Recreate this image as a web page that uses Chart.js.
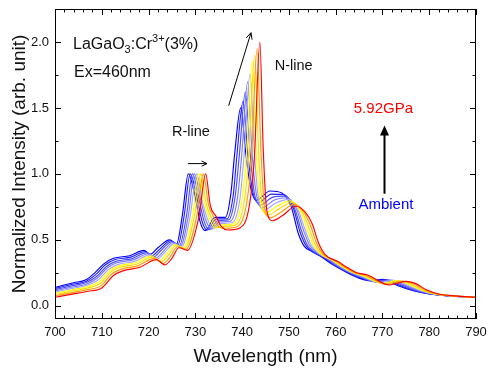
<!DOCTYPE html>
<html><head><meta charset="utf-8">
<script src="https://cdn.jsdelivr.net/npm/chart.js@4/dist/chart.umd.min.js"></script>
<style>html,body{margin:0;padding:0;background:#fff}</style>
</head><body>
<canvas id="c" width="488" height="368"></canvas>
<script>
// ---- tick labels ----
const xTickValues = [700, 710, 720, 730, 740, 750, 760, 770, 780, 790];
const yTickValues = [0, 0.5, 1.0, 1.5, 2.0];
const yTickLabels = ['0.0', '0.5', '1.0', '1.5', '2.0'];

// ---- series (ambient -> 5.92 GPa) ----
const seriesNames = ['Ambient', 'step 1', 'step 2', 'step 3', 'step 4', 'step 5', 'step 6', 'step 7', '5.92GPa'];
const seriesColors = ['#0000ff', '#2222ff', '#4d4dff', '#7a7aff', '#a5a5ff', '#ffff00', '#ffd800', '#ff9a00', '#ff0000'];

const wlAmbient = [700,704,706.5,708.5,710.5,712.5,716,719,720.3,722,724.5,726,727.2,728.5,730,731,732.1,734.2,736.4,737.6,738.4,739.7,740.8,741.8,743,746,748.5,750.5,752,753.3,755,757,759,762,765,767.5,770,773.5,777,780,784,790];
const intAmbient = [.14,.175,.195,.25,.32,.36,.38,.42,.39,.44,.50,.47,.68,1.0,.82,.64,.57,.67,.67,.85,1.15,1.50,1.15,.9,.80,.87,.855,.75,.55,.45,.41,.37,.32,.26,.21,.19,.20,.15,.11,.09,.075,.065];

const wlStep1 = [700,704,706.6,708.7,710.7,712.7,716.2,719.3,720.7,722.4,724.7,726.3,727.6,728.9,730.4,731.4,732.5,734.5,736.8,738.1,738.9,740.2,741.2,742.2,743.4,746.3,748.9,750.9,752.4,753.7,755.3,757.4,759.4,762.3,765.2,768,770.6,773.9,777.3,780.2,784.2,790];
const intStep1 = [.131,.165,.185,.236,.309,.349,.369,.412,.38,.43,.493,.464,.68,1.0,.813,.645,.574,.659,.66,.838,1.145,1.55,1.156,.878,.781,.847,.843,.745,.558,.454,.408,.366,.316,.259,.213,.186,.198,.152,.111,.09,.075,.065];

const wlStep2 = [700,704,706.6,708.9,711,713,716.5,719.6,721.1,722.7,725,726.6,728.1,729.4,730.8,731.8,732.9,734.9,737.1,738.5,739.4,740.7,741.7,742.6,743.8,746.6,749.2,751.2,752.7,754,755.6,757.8,759.8,762.6,765.4,768.5,771.2,774.3,777.6,780.5,784.4,790];
const intStep2 = [.122,.155,.175,.222,.298,.337,.358,.403,.371,.421,.486,.458,.68,1.0,.806,.65,.577,.647,.651,.826,1.14,1.62,1.162,.857,.763,.824,.831,.74,.567,.457,.405,.362,.313,.258,.216,.182,.196,.155,.112,.09,.075,.065];

const wlStep3 = [700,704,706.7,709,711.2,713.2,716.7,720,721.5,723.1,725.2,726.8,728.5,729.8,731.2,732.2,733.4,735.2,737.5,739,739.9,741.2,742.1,743.1,744.3,746.9,749.6,751.6,753.1,754.4,756,758.3,760.3,762.9,765.6,768.9,771.8,774.8,777.9,780.7,784.5,790];
const intStep3 = [.113,.144,.164,.209,.288,.326,.348,.395,.361,.411,.478,.452,.68,1.0,.798,.654,.581,.636,.641,.814,1.136,1.70,1.168,.835,.744,.802,.819,.736,.575,.461,.403,.357,.309,.256,.219,.178,.195,.157,.114,.09,.075,.065];

const wlStep4 = [700,704,706.7,709.2,711.5,713.5,717,720.3,721.8,723.4,725.5,727.1,728.9,730.3,731.5,732.6,733.8,735.5,737.9,739.5,740.4,741.7,742.6,743.5,744.7,747.2,749.9,751.9,753.4,754.7,756.3,758.7,760.7,763.2,765.8,769.4,772.4,775.2,778.2,781,784.7,790];
const intStep4 = [.104,.134,.154,.195,.277,.314,.337,.386,.352,.402,.471,.446,.68,1.0,.791,.659,.584,.624,.632,.802,1.131,1.76,1.174,.814,.726,.779,.807,.731,.584,.464,.40,.353,.306,.255,.222,.175,.193,.16,.115,.09,.075,.065];

const wlStep5 = [700,704,706.8,709.4,711.7,713.7,717.2,720.6,722.2,723.8,725.7,727.4,729.4,730.7,731.9,733,734.2,735.9,738.2,739.9,740.9,742.2,743,743.9,745.1,747.5,750.3,752.3,753.8,755.1,756.6,759.1,761.1,763.5,766,769.9,773,775.6,778.5,781.2,784.9,790];
const intStep5 = [.095,.124,.144,.181,.266,.303,.326,.378,.342,.392,.464,.44,.68,1.0,.784,.664,.588,.613,.622,.79,1.126,1.85,1.18,.792,.707,.756,.795,.726,.592,.468,.398,.349,.302,.254,.225,.171,.191,.162,.116,.09,.075,.065];

const wlStep6 = [700,704,706.9,709.6,711.9,713.9,717.4,720.9,722.6,724.2,725.9,727.7,729.8,731.2,732.3,733.4,734.6,736.2,738.6,740.4,741.4,742.7,743.5,744.3,745.5,747.8,750.7,752.7,754.2,755.5,756.9,759.5,761.5,763.8,766.2,770.4,773.6,776,778.8,781.4,785.1,790];
const intStep6 = [.086,.114,.134,.167,.255,.292,.315,.37,.332,.382,.457,.434,.68,1.0,.777,.669,.592,.602,.612,.778,1.121,1.90,1.186,.77,.688,.733,.783,.721,.60,.472,.396,.345,.298,.253,.228,.167,.189,.164,.117,.09,.075,.065];

const wlStep7 = [700,704,706.9,709.8,712.2,714.2,717.7,721.3,723.1,724.6,726.2,728,730.3,731.7,732.8,733.9,735.1,736.6,739,740.9,742,743.2,744,744.8,746,748.2,751.1,753.1,754.6,755.9,757.3,760,762,764.2,766.5,770.9,774.3,776.5,779.2,781.7,785.3,790];
const intStep7 = [.076,.102,.122,.151,.243,.278,.303,.36,.321,.371,.448,.427,.68,1.0,.768,.674,.596,.588,.601,.764,1.116,1.95,1.193,.745,.667,.707,.769,.716,.61,.476,.393,.34,.294,.251,.231,.162,.187,.167,.119,.09,.075,.065];

const wlTop = [700,704,707,710,712.5,714.5,718,721.7,723.5,725,726.5,728.3,730.8,732.2,733.2,734.4,735.6,737,739.5,741.5,742.6,743.8,744.5,745.3,746.5,748.5,751.5,753.5,755,756.3,757.7,760.5,762.5,764.5,766.7,771.5,775,777,779.5,782,785.5,790];
const intTop = [.065,.09,.11,.135,.23,.265,.29,.35,.31,.36,.44,.42,.68,1.0,.76,.68,.60,.575,.59,.75,1.11,2.0,1.2,.72,.645,.68,.755,.71,.62,.48,.39,.335,.29,.25,.235,.158,.185,.17,.12,.09,.075,.065];

const seriesWl = [wlAmbient, wlStep1, wlStep2, wlStep3, wlStep4, wlStep5, wlStep6, wlStep7, wlTop];
const seriesInt = [intAmbient, intStep1, intStep2, intStep3, intStep4, intStep5, intStep6, intStep7, intTop];

const FONT = "'Liberation Sans', Arial, sans-serif";

const datasets = seriesNames.map((name, i) => ({
  label: name,
  data: seriesWl[i].map((w, k) => ({x: w, y: seriesInt[i][k]})),
  borderColor: seriesColors[i],
  backgroundColor: seriesColors[i],
  borderWidth: 1.15,
  pointRadius: 0,
  fill: false,
  cubicInterpolationMode: 'monotone',
  order: seriesNames.length - i
}));

const framePlugin = {
  id: 'frame',
  afterDatasetsDraw(chart) {
    const {ctx, chartArea: a, scales: {x, y}} = chart;
    ctx.save();
    ctx.strokeStyle = '#000';
    ctx.lineWidth = 1;
    ctx.strokeRect(a.left + 0.5, a.top + 0.5, a.right - a.left - 1, a.bottom - a.top - 1);
    const seg = (x1, y1, x2, y2) => { ctx.beginPath(); ctx.moveTo(x1, y1); ctx.lineTo(x2, y2); ctx.stroke(); };
    for (let v = x.min; v <= x.max + 1e-6; v += 2) {
      const p = Math.round(x.getPixelForValue(v)) + 0.5;
      const L = (Math.round(v) % 10 === 0) ? 6 : 3.5;
      seg(p, a.bottom, p, a.bottom - L);
      seg(p, a.top, p, a.top + L);
    }
    for (let v = 0; v <= 2.25 + 1e-6; v += 0.25) {
      const p = Math.round(y.getPixelForValue(v)) + 0.5;
      const L = (Math.abs(v * 2 - Math.round(v * 2)) < 1e-6) ? 6 : 3.5;
      seg(a.left, p, a.left + L, p);
      seg(a.right, p, a.right - L, p);
    }
    ctx.restore();
  },
  afterDraw(chart) {
    const {ctx, scales: {x, y}} = chart;
    const X = v => x.getPixelForValue(v), Y = v => y.getPixelForValue(v);
    ctx.save();
    ctx.textBaseline = 'middle';
    ctx.textAlign = 'left';
    ctx.fillStyle = '#111';
    let px = X(703.85), py = Y(1.98);
    const put = (t, size, dy) => { ctx.font = size + 'px ' + FONT; ctx.fillText(t, px, py + dy); px += ctx.measureText(t).width; };
    put('LaGaO', 16, 0); put('3', 11, 5); put(':Cr', 16, 0); put('3+', 11, -6); put('(3%)', 16, 0);
    ctx.font = '16px ' + FONT;
    ctx.fillText('Ex=460nm', X(704.06), Y(1.77));
    ctx.font = '14.5px ' + FONT;
    ctx.fillText('R-line', X(725.0), Y(1.32));
    ctx.fillText('N-line', X(746.97), Y(1.815));
    ctx.font = '15px ' + FONT;
    ctx.textAlign = 'center';
    ctx.fillStyle = '#ff0000';
    ctx.fillText('5.92GPa', X(770.2), Y(1.495));
    ctx.fillStyle = '#0000ff';
    ctx.fillText('Ambient', X(770.75), Y(0.762));
    const openArrow = (x1, y1, x2, y2, head, lw) => {
      ctx.strokeStyle = '#000'; ctx.lineWidth = lw;
      ctx.beginPath(); ctx.moveTo(x1, y1); ctx.lineTo(x2, y2); ctx.stroke();
      const ang = Math.atan2(y2 - y1, x2 - x1);
      ctx.beginPath();
      ctx.moveTo(x2 - head * Math.cos(ang - 0.45), y2 - head * Math.sin(ang - 0.45));
      ctx.lineTo(x2, y2);
      ctx.lineTo(x2 - head * Math.cos(ang + 0.45), y2 - head * Math.sin(ang + 0.45));
      ctx.stroke();
    };
    openArrow(X(728.4), Y(1.078), X(732.5), Y(1.078), 6, 1);
    openArrow(X(737.13), Y(1.517), X(741.9), Y(2.07), 7, 1);
    const ax = Math.round(X(770.3)) + 0.5, ay1 = Y(0.85), ay2 = Y(1.366);
    ctx.strokeStyle = '#000'; ctx.lineWidth = 2;
    ctx.beginPath(); ctx.moveTo(ax, ay1); ctx.lineTo(ax, ay2 + 8); ctx.stroke();
    ctx.fillStyle = '#000';
    ctx.beginPath(); ctx.moveTo(ax, ay2); ctx.lineTo(ax - 4.5, ay2 + 10); ctx.lineTo(ax + 4.5, ay2 + 10); ctx.closePath(); ctx.fill();
    ctx.restore();
  }
};

new Chart(document.getElementById('c'), {
  type: 'line',
  data: {datasets},
  options: {
    responsive: false,
    animation: false,
    devicePixelRatio: 1,
    layout: {padding: {top: 9, right: 12, left: 0, bottom: 0}},
    plugins: {legend: {display: false}, tooltip: {enabled: false}},
    scales: {
      x: {
        type: 'linear', min: 700, max: 790,
        afterBuildTicks: s => { s.ticks = xTickValues.map(v => ({value: v})); },
        afterFit: s => { s.height = 49; s.paddingLeft = 0; s.paddingRight = 0; },
        grid: {display: false, drawTicks: false},
        border: {display: false},
        ticks: {padding: 6, color: '#111', font: {family: FONT, size: 13}, maxRotation: 0, autoSkip: false},
        title: {display: true, text: 'Wavelength (nm)', color: '#111', font: {family: FONT, size: 19}, padding: {top: 0, bottom: 0}}
      },
      y: {
        type: 'linear', min: -0.1, max: 2.25,
        afterBuildTicks: s => { s.ticks = yTickValues.map(v => ({value: v})); },
        afterFit: s => { s.width = 55; s.paddingTop = 0; s.paddingBottom = 0; },
        grid: {display: false, drawTicks: false},
        border: {display: false},
        ticks: {padding: 6, color: '#111', font: {family: FONT, size: 13}, autoSkip: false,
          callback: (v) => { const i = yTickValues.indexOf(v); return i >= 0 ? yTickLabels[i] : ''; }},
        title: {display: true, text: 'Normalized Intensity (arb. unit)', color: '#111', font: {family: FONT, size: 19}, padding: {top: 8, bottom: 0}}
      }
    }
  },
  plugins: [framePlugin]
});
</script>
</body></html>
